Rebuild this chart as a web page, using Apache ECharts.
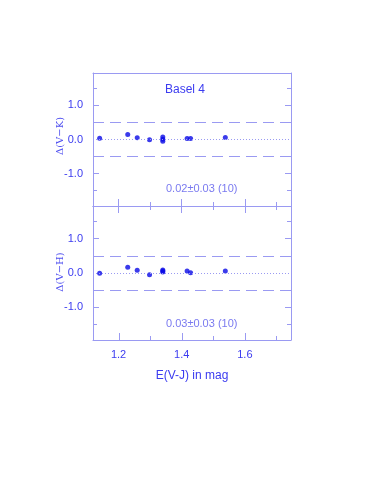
<!DOCTYPE html>
<html><head><meta charset="utf-8">
<script src="https://cdn.jsdelivr.net/npm/echarts@6/dist/echarts.min.js"></script>
<style>html,body{margin:0;padding:0;background:#fff}#c{width:382px;height:491px}</style>
</head><body><div id="c"></div>
<script>
const xValues = [1.14, 1.229, 1.259, 1.298, 1.34, 1.34, 1.34, 1.417, 1.428, 1.538];
const dVK = [0.04, 0.15, 0.05, -0.01, 0.07, 0.01, -0.05, 0.03, 0.03, 0.06];
const dVH = [-0.01, 0.17, 0.08, -0.05, 0.09, 0.06, 0.03, 0.06, 0.01, 0.06];
const xMajorTicks = [1.2, 1.4, 1.6];
const xMinorTicks = [1.3, 1.5, 1.7];
const yMajorTicks = [-1.0, 1.0];
const yMinorTicks = [-1.5, -0.5, 0.5, 1.5];
const yMajorLabels = [-1.0, 0.0, 1.0];
const bandLines = [-0.5, 0.5];
const panelTitles = ['Δ(V−K)', 'Δ(V−H)'];
const panelStats = ['0.02±0.03 (10)', '0.03±0.03 (10)'];
const panelNote = 'Basel 4';
const xTitle = 'E(V-J) in mag';

const AX = '#9a9af2', TXT = '#3b3bf0', PT = '#0a0ae6', FAINT = '#7a7af0';
const FONT = 'Liberation Sans';
const XMIN = 1.119, XMAX = 1.746, YMIN = -1.95, YMAX = 1.95;

const grids = [
  {left: 93, top: 73, width: 198, height: 133},
  {left: 93, top: 206, width: 198, height: 134}
];
const xAxes = [], yAxes = [];
function xa(g, pos, ticks, len, line, labels, name) {
  xAxes.push({
    type: 'value', gridIndex: g, position: pos, min: XMIN, max: XMAX,
    axisLine: {show: line, onZero: false, lineStyle: {color: AX, width: 1}},
    axisTick: {show: ticks.length > 0, inside: true, length: len, customValues: ticks, lineStyle: {color: AX, width: 1}},
    axisLabel: labels ? {show: true, customValues: labels, color: TXT, fontFamily: FONT, fontSize: 11, margin: 9,
      formatter: v => v.toFixed(1)} : {show: false},
    splitLine: {show: false},
    name: name || '', nameLocation: 'middle', nameGap: 30,
    nameTextStyle: {color: TXT, fontFamily: FONT, fontSize: 12}
  });
}
function ya(g, pos, ticks, len, line, labels) {
  yAxes.push({
    type: 'value', gridIndex: g, position: pos, min: YMIN, max: YMAX,
    axisLine: {show: line, onZero: false, lineStyle: {color: AX, width: 1}},
    axisTick: {show: ticks.length > 0, inside: true, length: len, customValues: ticks, lineStyle: {color: AX, width: 1}},
    axisLabel: labels ? {show: true, customValues: labels, color: TXT, fontFamily: FONT, fontSize: 11, margin: 10,
      formatter: v => v.toFixed(1)} : {show: false},
    splitLine: {show: false}
  });
}
// panel 0
xa(0, 'bottom', xMajorTicks, 7, true, null);          // 0
xa(0, 'bottom', xMinorTicks, 4, false, null);         // 1
xa(0, 'top', [], 0, true, null);                      // 2
ya(0, 'left', yMajorTicks, 6, true, yMajorLabels);    // 0
ya(0, 'left', yMinorTicks, 4, false, null);           // 1
ya(0, 'right', yMajorTicks, 6, true, null);           // 2
ya(0, 'right', yMinorTicks, 4, false, null);          // 3
// panel 1
xa(1, 'bottom', [], 0, true, xMajorTicks, xTitle);    // 3
xa(1, 'top', xMajorTicks, 7, true, null);             // 4
xa(1, 'top', xMinorTicks, 4, false, null);            // 5
ya(1, 'left', yMajorTicks, 6, true, yMajorLabels);    // 4
ya(1, 'left', yMinorTicks, 4, false, null);           // 5
ya(1, 'right', yMajorTicks, 6, true, null);           // 6
ya(1, 'right', yMinorTicks, 4, false, null);          // 7

function panelSeries(xi, yi, ys) {
  return {
    type: 'scatter', xAxisIndex: xi, yAxisIndex: yi,
    data: xValues.map((x, i) => [x, ys[i]]),
    symbol: 'circle', symbolSize: 5, itemStyle: {color: PT}, silent: true
  };
}
function refLines(xi, yi) {
  return {
    type: 'line', xAxisIndex: xi, yAxisIndex: yi, data: [], silent: true,
    markLine: {
      silent: true, symbol: 'none', label: {show: false}, animation: false,
      data: [
        ...bandLines.map(v => ({yAxis: v, lineStyle: {color: AX, width: 1, type: [11, 6]}})),
        {yAxis: 0, lineStyle: {color: AX, width: 1, type: [1, 2]}}
      ]
    }
  };
}
// bottom-edge ticks of the lower panel, placed through the panel's own scales
const bottomTicks = {
  type: 'custom', xAxisIndex: 3, yAxisIndex: 4, silent: true, clip: false,
  data: xMajorTicks.concat(xMinorTicks).map(v => [v, YMIN]),
  renderItem: function (params, api) {
    const v = api.value(0);
    const p = api.coord([v, api.value(1)]);
    const len = xMajorTicks.indexOf(v) >= 0 ? 7 : 4;
    const x = Math.round(p[0]) + 0.5;
    return {type: 'line', shape: {x1: x, y1: p[1], x2: x, y2: p[1] - len},
      style: {stroke: AX, lineWidth: 1}};
  }
};

const chart = echarts.init(document.getElementById('c'));
chart.setOption({
  animation: false,
  backgroundColor: '#fff',
  grid: grids,
  xAxis: xAxes,
  yAxis: yAxes,
  series: [refLines(0, 0), refLines(3, 4), panelSeries(0, 0, dVK), panelSeries(3, 4, dVH), bottomTicks],
  graphic: [
    {type: 'text', left: 165, top: 84, style: {text: panelNote, fill: TXT, font: '12px "Liberation Sans"'}},
    {type: 'text', left: 166, top: 183, style: {text: panelStats[0], fill: FAINT, font: '11px "Liberation Sans"'}},
    {type: 'text', left: 166, top: 318, style: {text: panelStats[1], fill: FAINT, font: '11px "Liberation Sans"'}},
    {type: 'text', x: 60, y: 136, rotation: Math.PI / 2,
      style: {text: panelTitles[0], fill: '#5050f0', font: '10px "DejaVu Serif"', textAlign: 'center', textVerticalAlign: 'middle'}},
    {type: 'text', x: 60, y: 272, rotation: Math.PI / 2,
      style: {text: panelTitles[1], fill: '#5050f0', font: '10px "DejaVu Serif"', textAlign: 'center', textVerticalAlign: 'middle'}}
  ]
});
</script></body></html>
